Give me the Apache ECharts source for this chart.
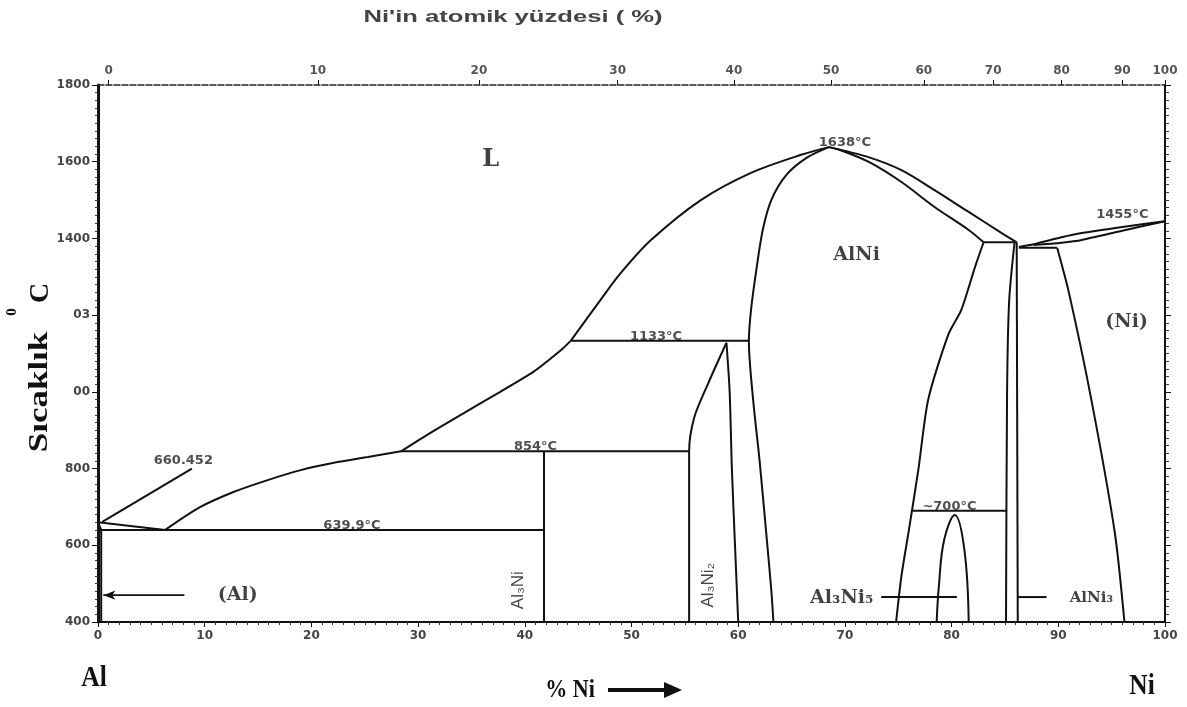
<!DOCTYPE html>
<html>
<head>
<meta charset="utf-8">
<script src="https://cdn.jsdelivr.net/npm/echarts@6/dist/echarts.min.js"></script>
<style>
  html, body { margin: 0; background: #fff; }
  #chart { width: 1187px; height: 707px; }
</style>
</head>
<body>
<div id="chart"></div>
<script>
// --- data (wt% Ni, temperature in °C) ---
var tempTicks = [400, 600, 800, 1000, 1200, 1400, 1600, 1800];
var tempLabels = ['400', '600', '800', '00', '03', '1400', '1600', '1800'];
var atPctLabels = ['0', '10', '20', '30', '40', '50', '60', '70', '80', '90', '100'];
var atPctPos = [1.0, 20.6, 35.7, 48.7, 59.6, 68.7, 77.4, 83.9, 90.3, 96.0, 100];

// liquidus
var liqAlSide = [[0, 660], [6.3, 640]];
var liqToPeri1 = [[6.3, 640], [9.6, 700], [12.7, 739], [15.9, 770], [19.0, 796], [22.1, 815], [25.3, 830], [28.4, 845]];
var liqToPeri2 = [[28.4, 845], [31.5, 899], [34.6, 950], [37.7, 1000], [40.8, 1052], [43.4, 1109], [44.3, 1133]];
var liqToPeak = [[44.3, 1133], [47.1, 1240], [49.0, 1310], [51.8, 1395], [56.5, 1500], [61.2, 1571], [65.9, 1618], [68.5, 1638]];
var liqPeakRight = [[68.5, 1638], [72.2, 1612], [75.3, 1578], [78.4, 1526], [81.6, 1469], [84.7, 1414], [86.1, 1390]];
var liqNi = [[86.3, 1378], [87.7, 1385], [90.3, 1403], [92.2, 1414], [96.0, 1430], [100, 1445]];
// solidus / solvus
var solNi = [[87.7, 1383], [90.3, 1389], [92.2, 1396], [96.0, 1420], [100, 1445]];
var alniLeft = [[68.5, 1638], [66.4, 1610], [64.5, 1565], [63.1, 1500], [62.3, 1422], [61.7, 1318], [61.2, 1213], [61.0, 1133], [61.4, 979], [62.0, 822], [62.6, 640], [63.1, 484], [63.3, 400]];
var alniRightTop = [[68.5, 1638], [69.6, 1630], [72.2, 1600], [75.3, 1547], [78.4, 1482], [81.6, 1422], [83.0, 1390]];
var alniRight = [[83.0, 1390], [82.2, 1326], [80.9, 1213], [79.7, 1150], [77.8, 979], [76.9, 800], [76.0, 640], [75.3, 520], [74.8, 400]];
var alSolvus = [[0, 660], [0.3, 640], [0.3, 400]];
var al3ni2Left = [[55.4, 400], [55.4, 845], [55.9, 935], [57.2, 1023], [58.9, 1128]];
var al3ni2Right = [[58.9, 1128], [59.2, 1000], [59.4, 805], [59.7, 600], [60.0, 400]];
var al3ni5Dome = [[78.6, 400], [78.8, 491], [79.3, 614], [80.3, 679], [81.2, 588], [81.6, 400]];
var alni3Left = [[85.9, 1390], [85.4, 1240], [85.2, 1000], [85.1, 400]];
var alni3Right = [[86.1, 1390], [86.2, 400]];
var niSolvus = [[89.9, 1375], [91.0, 1258], [93.1, 979], [95.3, 632], [96.2, 400]];
// invariant lines
var eut640 = [[0, 640], [41.8, 640]];
var peri854 = [[28.4, 845], [55.4, 845]];
var peri1133 = [[44.3, 1133], [61.0, 1133]];
var peri1390 = [[83.0, 1390], [86.1, 1390]];
var peri1375 = [[86.3, 1376], [89.9, 1376]];
var line700 = [[76.3, 690], [85.2, 690]];
var al3niLine = [[41.8, 845], [41.8, 400]];
// leaders
var alLeader = [[8.1, 470], [0.5, 470]];
var meltLeader = [[0.4, 661], [8.8, 800]];
var al3ni5Leader = [[73.4, 465], [80.5, 465]];
var alni3Leader = [[86.2, 465], [88.9, 465]];

// annotations
var noteText = ['L', '1638°C', 'AlNi', '1455°C', '(Ni)', '1133°C', '854°C', '660.452', '639.9°C', '~700°C', '(Al)', 'Al₃Ni', 'Al₃Ni₂', 'Al₃Ni₅', 'AlNi₃'];
var noteNi = [36.8, 70.0, 71.1, 96.0, 96.4, 52.3, 41.0, 8.0, 23.8, 79.8, 13.1, 39.4, 57.2, 69.7, 93.1];
var noteTemp = [1604, 1649, 1357, 1461, 1182, 1143, 856, 822, 650, 702, 470, 483, 496, 463, 463];

var ink = '#111';
var chart = echarts.init(document.getElementById('chart'));

// [points, smoothness]
var curves = [
  [liqAlSide, 0], [liqToPeri1, 0.3], [liqToPeri2, 0.15], [liqToPeak, 0.3], [liqPeakRight, 0.3],
  [liqNi, 0.25], [solNi, 0.25], [alniLeft, 0.3], [alniRightTop, 0.3], [alniRight, 0.25],
  [alSolvus, 0], [al3ni2Left, 0.3], [al3ni2Right, 0.25], [al3ni5Dome, 0.4], [alni3Left, 0.25],
  [alni3Right, 0], [niSolvus, 0.25], [eut640, 0], [peri854, 0], [peri1133, 0], [peri1390, 0],
  [peri1375, 0], [line700, 0], [al3niLine, 0], [meltLeader, 0], [al3ni5Leader, 0], [alni3Leader, 0]
];

var series = curves.map(function (c) {
  return {
    type: 'line', data: c[0], smooth: c[1], symbol: 'none', silent: true,
    lineStyle: { color: ink, width: 2 }
  };
});

series.push({
  type: 'line', silent: true, symbol: 'none',
  lineStyle: { color: ink, width: 1.6 },
  data: [alLeader[0], { value: alLeader[1], symbol: 'arrow', symbolSize: [7, 12], symbolRotate: 90, itemStyle: { color: ink } }]
});

var small = { fontFamily: 'DejaVu Sans', fontSize: 13, fontWeight: 'bold', color: '#222' };
var phase = { fontFamily: 'DejaVu Serif', fontSize: 19, fontWeight: 'bold', color: '#111' };
var rot = { fontFamily: 'Liberation Sans', fontSize: 17, color: '#111', rotate: 90 };
var styleFor = {
  'L': { fontFamily: 'DejaVu Serif', fontSize: 24, fontWeight: 'bold', color: '#111' },
  'AlNi': phase, '(Ni)': phase, '(Al)': phase, 'Al₃Ni₅': phase,
  'AlNi₃': { fontFamily: 'DejaVu Serif', fontSize: 15, fontWeight: 'bold', color: '#111' },
  'Al₃Ni': rot, 'Al₃Ni₂': rot
};

series.push({
  type: 'scatter', symbolSize: 0, silent: true,
  data: noteText.map(function (t, i) {
    var st = styleFor[t] || small;
    return { name: t, value: [noteNi[i], noteTemp[i]], label: Object.assign({ show: true, position: 'inside', formatter: '{b}' }, st) };
  })
});

var tickFont = { fontFamily: 'DejaVu Sans', fontSize: 12, color: '#444', fontWeight: 'bold' };

chart.setOption({
  animation: false,
  backgroundColor: '#fff',
  grid: { left: 98, right: 22, top: 85, bottom: 85 },
  xAxis: [{
    type: 'value', min: 0, max: 100, interval: 10, position: 'bottom',
    axisLine: { onZero: false, lineStyle: { color: ink, width: 2 } },
    axisTick: { show: true, length: 5, lineStyle: { color: ink } },
    minorTick: { show: true, splitNumber: 10, length: 3, lineStyle: { color: '#333' } },
    splitLine: { show: false },
    axisLabel: Object.assign({ margin: 8 }, tickFont)
  }, {
    type: 'value', min: 0, max: 100, position: 'top',
    axisLine: { onZero: false, lineStyle: { color: '#222', width: 1.5, type: [6, 2] } },
    axisTick: { show: true, customValues: atPctPos, length: 5, lineStyle: { color: ink } },
    splitLine: { show: false },
    axisLabel: Object.assign({
      customValues: atPctPos, margin: 8,
      formatter: function (v) { var i = atPctPos.indexOf(v); return i >= 0 ? atPctLabels[i] : ''; }
    }, tickFont, { color: '#555' })
  }],
  yAxis: [{
    type: 'value', min: 400, max: 1800, interval: 200, position: 'left',
    axisLine: { onZero: false, lineStyle: { color: ink, width: 3 } },
    axisTick: { show: true, length: 6, lineStyle: { color: ink } },
    minorTick: { show: true, splitNumber: 10, length: 3, lineStyle: { color: '#333' } },
    splitLine: { show: false },
    axisLabel: Object.assign({
      margin: 8,
      formatter: function (v) { var i = tempTicks.indexOf(v); return i >= 0 ? tempLabels[i] : ''; }
    }, tickFont)
  }, {
    type: 'value', min: 400, max: 1800, interval: 200, position: 'right',
    axisLine: { onZero: false, lineStyle: { color: ink, width: 2 } },
    axisTick: { show: true, length: 6, lineStyle: { color: ink } },
    minorTick: { show: true, splitNumber: 10, length: 4, lineStyle: { color: '#333' } },
    splitLine: { show: false },
    axisLabel: { show: false }
  }],
  series: series,
  graphic: [
    { type: 'text', x: 513, y: 18, scaleX: 1.6, style: { text: "Ni'in atomik yüzdesi ( %)", font: 'bold 16px "Liberation Sans"', fill: '#444', align: 'center', verticalAlign: 'middle' } },
    { type: 'text', x: 40, y: 392, rotation: Math.PI / 2, scaleX: 1.25, style: { text: 'Sıcaklık', font: 'bold 28px "Liberation Serif"', fill: '#111', align: 'center', verticalAlign: 'middle' } },
    { type: 'text', x: 12, y: 312, rotation: Math.PI / 2, style: { text: '0', font: 'bold 15px "Liberation Serif"', fill: '#111', align: 'center', verticalAlign: 'middle' } },
    { type: 'text', x: 41, y: 293, rotation: Math.PI / 2, style: { text: 'C', font: 'bold 28px "Liberation Serif"', fill: '#111', align: 'center', verticalAlign: 'middle' } },
    { type: 'text', x: 94, y: 678, scaleX: 0.85, style: { text: 'Al', font: 'bold 30px "Liberation Serif"', fill: '#111', align: 'center', verticalAlign: 'middle' } },
    { type: 'text', x: 570, y: 690, scaleX: 0.85, style: { text: '% Ni', font: 'bold 26px "Liberation Serif"', fill: '#111', align: 'center', verticalAlign: 'middle' } },
    { type: 'line', shape: { x1: 608, y1: 690, x2: 668, y2: 690 }, style: { stroke: '#111', lineWidth: 4 } },
    { type: 'polygon', shape: { points: [[664, 682], [682, 690], [664, 698]] }, style: { fill: '#111' } },
    { type: 'text', x: 1142, y: 686, scaleX: 0.85, style: { text: 'Ni', font: 'bold 30px "Liberation Serif"', fill: '#111', align: 'center', verticalAlign: 'middle' } }
  ]
});
window.onresize = function () { chart.resize(); };
</script>
</body>
</html>
